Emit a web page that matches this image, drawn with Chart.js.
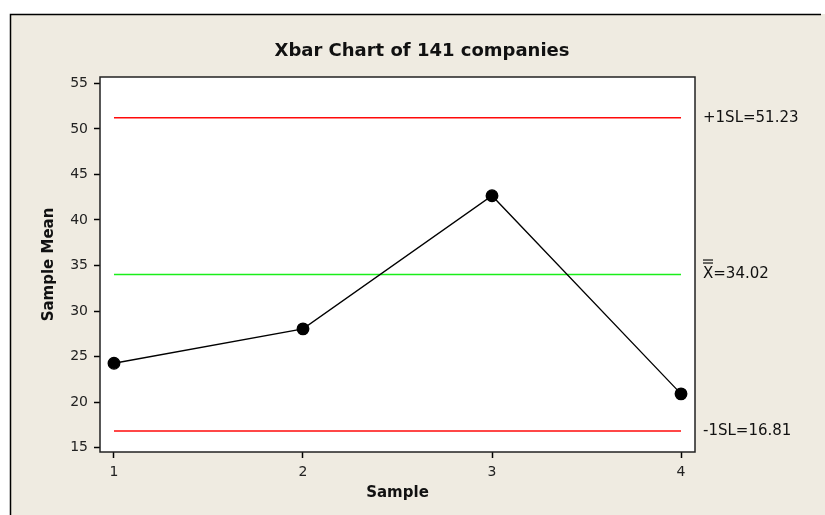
<!DOCTYPE html>
<html>
<head>
<meta charset="utf-8">
<script src="https://cdn.jsdelivr.net/npm/chart.js@4.4.0/dist/chart.umd.min.js"></script>
<style>
    html, body { margin: 0; padding: 0; background: #ffffff; }
    #wrap { width: 825px; height: 515px; }
</style>
</head>
<body>
<div id="wrap"><canvas id="xbarChart" width="825" height="515"></canvas></div>
<script>
const samples = [1, 2, 3, 4];
const sampleMeans = [24.26, 28.04, 42.67, 20.9];
const upperLimit = 51.23;
const centerLine = 34.02;
const lowerLimit = 16.81;
const xTicks = [1, 2, 3, 4];
const yTicks = [15, 20, 25, 30, 35, 40, 45, 50, 55];
const chartTitle = 'Xbar Chart of 141 companies';

const FONT = "'DejaVu Sans', sans-serif";

function limitLine(value) {
    return [{ x: samples[0], y: value }, { x: samples[samples.length - 1], y: value }];
}

// background box, plot frame, title and limit labels
const decorPlugin = {
    id: 'decor',
    beforeDraw(chart) {
        const ctx = chart.ctx;
        const a = chart.chartArea;
        ctx.save();
        ctx.fillStyle = '#efebe1';
        ctx.fillRect(10, 14, 815, 501);
        ctx.strokeStyle = '#000';
        ctx.lineWidth = 1.5;
        ctx.beginPath();
        ctx.moveTo(10.5, 520);
        ctx.lineTo(10.5, 14.5);
        ctx.lineTo(821, 14.5);
        ctx.stroke();
        ctx.fillStyle = '#ffffff';
        ctx.fillRect(a.left, a.top, a.right - a.left, a.bottom - a.top);
        ctx.restore();
    },
    afterDraw(chart) {
        const ctx = chart.ctx;
        const a = chart.chartArea;
        const y = chart.scales.y;
        ctx.save();
        ctx.strokeStyle = '#222';
        ctx.lineWidth = 1.5;
        ctx.strokeRect(a.left, a.top, a.right - a.left, a.bottom - a.top);

        ctx.fillStyle = '#111';
        ctx.font = 'bold 18px ' + FONT;
        ctx.textAlign = 'center';
        ctx.textBaseline = 'middle';
        ctx.fillText(chartTitle, 422, 51);

        ctx.font = '15px ' + FONT;
        ctx.textAlign = 'left';
        ctx.fillText('+1SL=' + upperLimit.toFixed(2), 703, y.getPixelForValue(upperLimit));
        ctx.fillText('-1SL=' + lowerLimit.toFixed(2), 703, y.getPixelForValue(lowerLimit));
        const cy = y.getPixelForValue(centerLine);
        ctx.fillText('X=' + centerLine.toFixed(2), 703, cy);
        ctx.fillRect(703, cy - 15, 10, 1.2);
        ctx.fillRect(703, cy - 12, 10, 1.2);
        ctx.restore();
    }
};

new Chart(document.getElementById('xbarChart'), {
    type: 'scatter',
    data: {
        datasets: [
            {
                label: 'Sample Mean',
                data: samples.map((s, i) => ({ x: s, y: sampleMeans[i] })),
                showLine: true,
                borderColor: '#000',
                borderWidth: 1.3,
                backgroundColor: '#000',
                pointRadius: 5.8,
                pointHoverRadius: 5.8
            },
            {
                label: '+1SL',
                data: limitLine(upperLimit),
                showLine: true,
                borderColor: '#ff0a0a',
                borderWidth: 1.5,
                pointRadius: 0
            },
            {
                label: 'Xbar',
                data: limitLine(centerLine),
                showLine: true,
                borderColor: '#1aee1a',
                borderWidth: 1.5,
                pointRadius: 0
            },
            {
                label: '-1SL',
                data: limitLine(lowerLimit),
                showLine: true,
                borderColor: '#ff0a0a',
                borderWidth: 1.5,
                pointRadius: 0
            }
        ]
    },
    options: {
        responsive: false,
        animation: false,
        layout: { padding: { left: 40, right: 130, top: 77, bottom: 13 } },
        plugins: {
            legend: { display: false },
            tooltip: { enabled: false }
        },
        scales: {
            x: {
                type: 'linear',
                min: 0.926,
                max: 4.074,
                afterBuildTicks: s => { s.ticks = xTicks.map(v => ({ value: v })); },
                afterFit: s => { s.height = 50; },
                grid: { drawOnChartArea: false, tickLength: 6, tickColor: '#000', tickWidth: 1.5 },
                border: { display: false },
                ticks: { color: '#222', font: { family: FONT, size: 14 }, padding: 6, maxRotation: 0 },
                title: {
                    display: true,
                    text: 'Sample',
                    color: '#111',
                    font: { family: FONT, size: 15, weight: 'bold' },
                    padding: 0
                }
            },
            y: {
                min: 14.51,
                max: 55.71,
                afterBuildTicks: s => { s.ticks = yTicks.map(v => ({ value: v })); },
                afterFit: s => { s.width = 60; },
                grid: { drawOnChartArea: false, tickLength: 6, tickColor: '#000', tickWidth: 1.5 },
                border: { display: false },
                ticks: { color: '#222', font: { family: FONT, size: 14 }, padding: 6 },
                title: {
                    display: true,
                    text: 'Sample Mean',
                    color: '#111',
                    font: { family: FONT, size: 15, weight: 'bold' },
                    padding: 0
                }
            }
        }
    },
    plugins: [decorPlugin]
});
</script>
</body>
</html>
